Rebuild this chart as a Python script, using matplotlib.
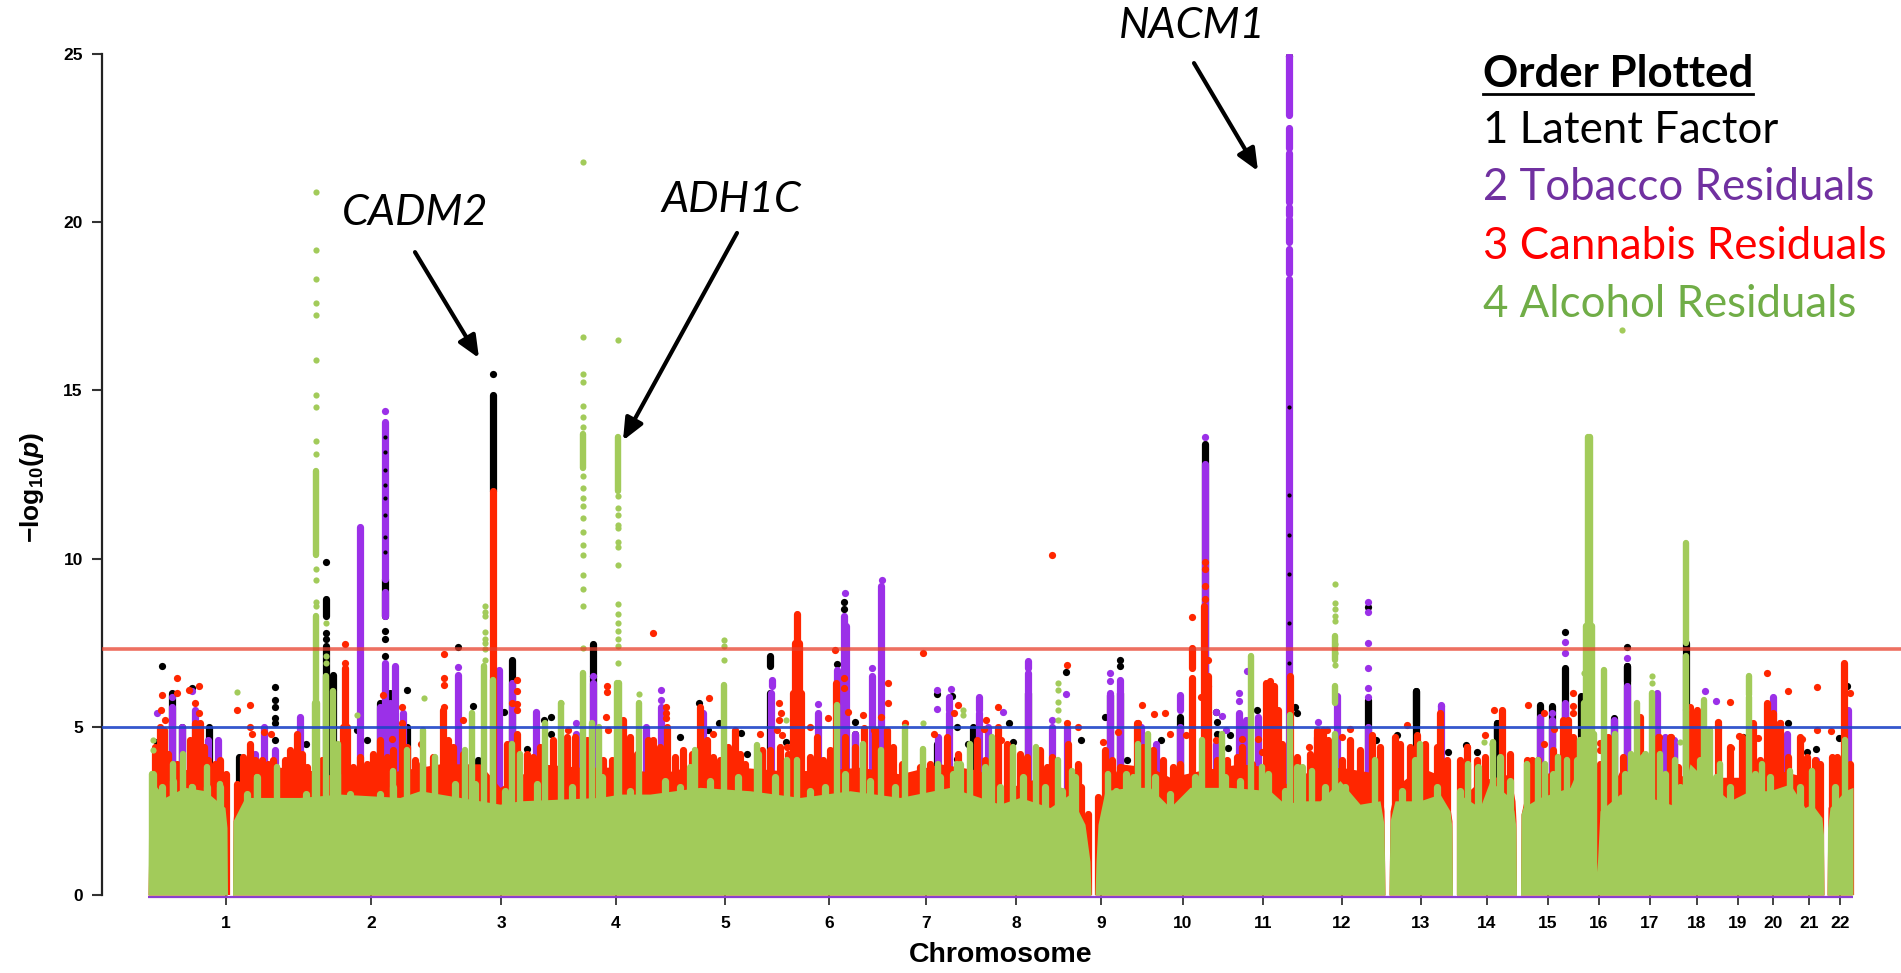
"""Overlaid Manhattan plot: latent factor and tobacco / cannabis / alcohol residuals.

Genome position is kept on a plain linear scale, one unit per output pixel.
"""
import matplotlib
matplotlib.use("Agg")
import matplotlib.pyplot as plt

plt.rcParams.update({"font.family": "Liberation Sans",
                     "mathtext.fontset": "custom",
                     "mathtext.rm": "Liberation Sans:bold",
                     "mathtext.bf": "Liberation Sans:bold",
                     "mathtext.it": "Liberation Sans:bold:italic"})

BLACK, PURPLE, RED, GREEN = "#000000", "#9b30e8", "#ff2600", "#a2cb5a"

CHR_LABELS = [str(i) for i in range(1, 23)]
CHR_TICKS = [226, 371, 501, 616, 725, 829, 926, 1016, 1101, 1183, 1263, 1342,
             1421, 1487, 1548, 1599, 1650, 1697, 1738, 1773, 1809, 1840]
GENOME_START, GENOME_END = 148, 1853
Y_TICKS = [0, 5, 10, 15, 20, 25]
LINE_SUGGESTIVE, LINE_GENOME_WIDE = 5.0, 7.3

# green floor of the plot, a lower bound every SNP clears
GREEN_BASE_X = [148, 149, 165, 185, 205, 225, 227, 227.5, 232.5, 233, 245, 300, 340, 400, 420, 500, 520, 600, 620,
                650, 700, 750, 800, 850, 900, 950, 1000, 1020, 1050, 1070, 1085, 1090, 1091, 1095, 1096, 1098, 1105,
                1130, 1150, 1170, 1190, 1230, 1270, 1285, 1300, 1320, 1340, 1360, 1380, 1384, 1385, 1389, 1390, 1395,
                1420, 1440, 1450, 1452, 1452.5, 1456.5, 1457, 1459, 1480, 1490, 1510, 1514, 1516, 1516.5, 1520.5, 1521,
                1523, 1540, 1570, 1580, 1594, 1597, 1600, 1620, 1650, 1680, 1690, 1710, 1730, 1750, 1770, 1790, 1805,
                1812, 1822, 1823.5, 1824, 1827, 1827.5, 1830, 1845, 1853]
GREEN_BASE_Y = [0, 3.5, 2.9, 3.2, 3.1, 2.6, 2.0, 0, 0, 2.2, 2.9, 2.9, 3.0, 2.9, 3.1, 2.7, 2.8, 2.9, 3.0,
                3.0, 3.2, 3.1, 2.9, 3.1, 2.9, 3.2, 2.7, 2.9, 2.6, 3.0, 2.1, 1.0, 0, 0, 1.0, 2.1, 3.1,
                3.2, 3.2, 2.6, 3.2, 3.2, 3.1, 2.7, 2.8, 2.8, 3.4, 2.7, 2.8, 2.1, 0, 0, 2.2, 2.8,
                2.8, 3.0, 2.5, 2.0, 0, 0, 2.6, 3.0, 2.6, 3.4, 2.9, 2.5, 2.0, 0, 0, 2.4,
                2.6, 2.9, 3.2, 3.9, 2.5, 0.7, 2.5, 3.0, 2.9, 2.6, 3.9, 3.3, 2.8, 3.1, 3.1, 3.3, 2.6,
                2.7, 2.3, 1.8, 0, 0, 2.0, 2.6, 3.1, 3.2]
GREEN_COL_X = [152, 173, 183, 192, 207, 220, 257, 277, 315, 316, 317, 326, 333, 338, 393, 407, 423, 435, 465, 472,
               484, 493, 512, 520, 545, 561, 583, 592, 599, 617, 619, 639, 695, 724, 757, 787, 797, 837, 863,
               881, 905, 923, 938, 957, 970, 992, 1013, 1036, 1058, 1072, 1108, 1138, 1148, 1202, 1222, 1251,
               1262, 1290, 1312, 1335, 1375, 1420, 1468, 1493, 1527, 1538, 1545, 1558, 1567, 1580, 1584, 1586, 1588,
               1590, 1592, 1594, 1604, 1615, 1631, 1637, 1643, 1652, 1660, 1675, 1686, 1704, 1710, 1720, 1749, 1762,
               1790, 1812, 1845]
GREEN_COL_TOP = [3.6, 3.9, 4.2, 3.2, 3.8, 3.3, 3.5, 3.8, 5.7, 8.3, 5.7, 6.5, 6.05, 4.5, 3.7, 4.3, 4.9, 4.1, 4.3, 5.4,
                 6.8, 6.4, 4.5, 4.2, 5.1, 5.7, 6.6, 5.1, 5.0, 6.3, 6.3, 5.7, 4.3, 6.25, 4.45, 4.0, 4.0, 5.65, 4.5,
                 4.3, 5.0, 4.35, 3.9, 3.9, 4.5, 4.7, 4.4, 4.4, 4.0, 3.7, 3.6, 4.5, 4.8, 4.6, 4.8, 7.1,
                 3.8, 5.35, 3.7, 4.8, 4.0, 4.5, 3.9, 4.55, 3.9, 4.0, 3.9, 4.1, 4.0, 4.6, 5.7, 8.0, 13.6,
                 13.6, 8.0, 4.8, 6.7, 4.8, 4.2, 5.7, 4.1, 6.0, 4.2, 4.0, 5.5, 5.8, 4.9, 3.9, 5.9, 3.9,
                 3.7, 3.7, 4.6]
# low rounded bumps along the top of the green mass
GREEN_BUMP_X = [153, 162, 173, 192, 207, 220, 247, 257, 306, 337, 350, 380, 393,
                455, 475, 505, 537, 572, 602, 630, 665, 680, 690, 710,
                738, 758, 775, 810, 825, 845, 870, 895, 940, 953, 960, 985, 1000,
                1023, 1045, 1062, 1075, 1116, 1126, 1133, 1155, 1170, 1195, 1225, 1240, 1268, 1285, 1297,
                1302, 1325, 1345, 1402, 1415, 1437, 1460, 1478, 1500, 1510, 1553, 1577,
                1625, 1645, 1665, 1680, 1700, 1716, 1730, 1755, 1770, 1800, 1835]
GREEN_BUMP_Y = [3.6, 3.2, 3.4, 3.2, 3.2, 3.2, 3.0, 3.5, 3.0, 3.6, 3.0, 3.0, 3.2,
                3.3, 3.3, 3.1, 3.3, 3.2, 3.5, 3.1, 3.4, 3.2, 3.8, 3.4,
                3.5, 4.2, 3.5, 3.1, 3.2, 3.6, 3.4, 3.2, 3.5, 3.6, 3.9, 3.8, 3.2,
                3.5, 3.2, 3.1, 3.5, 3.1, 3.6, 3.5, 3.5, 3.0, 3.5, 3.5, 3.4, 3.6, 3.1, 3.8,
                3.8, 3.2, 3.2, 3.1, 4.0, 3.2, 3.1, 3.8, 4.1, 3.4, 3.6, 4.0,
                3.6, 4.2, 3.6, 3.2, 4.0, 3.5, 3.2, 3.6, 3.5, 3.2, 3.2]
GREEN_SEG_X = [316, 583, 618, 1335, 1335, 1686, 1686, 1749]
GREEN_SEG_LO = [10.1, 12.7, 12.0, 5.7, 7.0, 7.5, 5.5, 5.95]
GREEN_SEG_HI = [12.6, 13.7, 13.6, 6.2, 7.7, 10.45, 7.1, 6.5]
GREEN_DOT_X = [316, 316, 316, 316, 316, 316, 316, 316, 316, 316, 316, 316, 316, 316,
               583, 583, 583, 583, 583, 583, 583, 583, 583, 583, 583, 583, 583, 583, 583, 583, 583, 583, 583,
               618, 618, 618, 618, 618, 618, 618, 618, 618, 618, 618, 618, 618, 618, 618, 618,
               1335, 1335, 1335, 1335, 1335, 1335, 1335, 1335,
               485, 485, 485, 485, 485, 485, 485, 485,
               237, 357, 424, 326, 326, 326, 153, 153, 786, 963, 963, 923, 724, 724, 724,
               1652, 1652, 1058, 1058, 1058, 1058, 1058, 1484, 1492, 1680, 639, 561, 1584, 1622]
GREEN_DOT_Y = [20.9, 19.16, 18.3, 17.6, 17.25, 15.9, 14.85, 14.5, 13.5, 13.1, 9.7, 9.35, 8.7, 8.6,
               21.8, 16.6, 15.5, 15.25, 14.55, 14.2, 13.9, 12.45, 12.1, 11.8, 11.55, 11.2, 10.8, 10.4, 10.1, 9.5, 9.1, 8.6, 7.35,
               16.5, 11.85, 11.5, 11.3, 11.0, 10.9, 10.5, 10.35, 9.8, 8.65, 8.35, 8.1, 7.85, 7.6, 7.4, 6.9,
               9.25, 8.67, 8.5, 8.3, 8.15, 7.45, 7.2, 6.85,
               8.6, 8.4, 8.3, 7.83, 7.6, 7.5, 7.3, 7.0,
               6.03, 5.34, 5.85, 8.1, 7.1, 6.9, 4.6, 4.3, 5.2, 5.5, 5.35, 5.1, 7.58, 7.4, 7.0,
               6.5, 6.3, 6.3, 6.1, 5.75, 5.5, 5.2, 4.55, 4.5, 4.55, 5.98, 5.72, 6.6, 16.8]

RED_FLOOR_X = [148, 150, 160, 180, 200, 220, 226, 227, 227.5, 232.5, 233, 236, 245, 280, 320, 360, 400, 440, 480, 500, 540,
               580, 620, 660, 700, 740, 780, 820, 860, 900, 940, 980, 1000, 1040, 1075, 1085, 1090, 1091,
               1095, 1096, 1100, 1120, 1150, 1170, 1200, 1240, 1270, 1285, 1300, 1340, 1380, 1384, 1385, 1389, 1390,
               1395, 1420, 1445, 1451, 1452, 1452.5, 1456.5, 1457, 1458, 1480, 1510, 1515, 1516, 1516.5, 1520.5, 1521,
               1524, 1540, 1570, 1590, 1596, 1597, 1598, 1599, 1620, 1660, 1700, 1740, 1780, 1820, 1823, 1824, 1827,
               1828, 1840, 1852]
RED_FLOOR_Y = [0, 3.6, 3.8, 3.7, 3.8, 3.7, 3.0, 2.2, 0, 0, 2.2, 3.2, 3.6, 3.8, 3.6, 3.5, 3.7, 3.9, 3.9, 3.2, 3.9,
               3.8, 3.8, 3.6, 3.9, 3.8, 3.7, 3.7, 3.8, 3.6, 3.9, 3.7, 3.1, 3.5, 3.0, 2.4, 1.4, 0,
               0, 1.4, 2.8, 3.9, 3.8, 3.5, 3.7, 3.9, 3.8, 3.3, 3.6, 3.8, 3.6, 2.5, 0, 0, 2.5,
               3.2, 3.8, 3.5, 2.4, 2.2, 0, 0, 2.4, 2.8, 3.4, 3.6, 2.8, 2.2, 0, 0, 2.4,
               2.8, 3.6, 3.7, 3.8, 2.6, 1.0, 0.8, 2.4, 3.7, 3.6, 3.5, 3.5, 3.7, 3.4, 2.6, 0, 0,
               2.6, 3.4, 3.4]
RED_COL_X = [155, 160, 164, 168, 172, 177, 190, 195, 200, 204, 208, 215, 220, 226,
             237, 243, 250, 255, 262, 268, 273, 278, 285, 290, 297, 302, 307, 311, 322, 340, 343, 345, 347, 353, 360, 367,
             373, 380, 387, 393, 402, 407, 415, 422, 433, 443, 448, 453, 463, 493, 507, 517, 527, 533, 540, 553, 567, 575,
             587, 603, 612, 623, 630, 637, 648, 653, 660, 667, 675, 683, 692, 700, 707, 713, 720,
             728, 735, 740, 745, 762, 770, 780, 788, 793, 795, 797, 799, 801, 810, 817, 823, 830, 836, 845, 855, 864,
             875, 887, 893, 902, 920, 930, 947, 958, 977, 985, 998, 1007,
             1020, 1027, 1040, 1047, 1052, 1068, 1078, 1081, 1088, 1098, 1105, 1112, 1120, 1137, 1143, 1153, 1163,
             1173, 1180, 1192, 1204, 1208, 1217, 1227, 1237, 1242, 1252, 1266, 1270, 1274, 1278, 1282, 1290, 1297,
             1310, 1317, 1323, 1328, 1342, 1350, 1360, 1372, 1380, 1395, 1400, 1410, 1417, 1425, 1437, 1440, 1447,
             1460, 1467, 1477, 1485, 1502, 1510, 1527, 1532, 1538, 1553, 1563, 1568, 1573,
             1600, 1608, 1623, 1640, 1658, 1670, 1678, 1690, 1697, 1700, 1718, 1730, 1742, 1753, 1760, 1767, 1773,
             1780, 1788, 1800, 1807, 1815, 1820, 1832, 1837, 1844, 1850]
RED_COL_TOP = [4.4, 5.0, 4.9, 4.2, 3.8, 3.9, 4.6, 5.1, 5.1, 4.4, 4.0, 3.9, 4.0, 3.6,
               3.3, 4.1, 4.5, 4.0, 4.0, 3.9, 4.0, 3.6, 4.0, 4.3, 4.8, 4.2, 3.8, 3.6, 4.0, 3.9, 5.0, 6.75, 5.0, 3.8, 4.1, 3.9,
               4.2, 4.6, 4.1, 4.3, 5.0, 4.4, 4.0, 3.9, 4.1, 5.5, 4.6, 4.4, 4.2, 12.0, 4.5, 4.8, 4.2, 4.1, 4.4, 4.6, 4.7, 4.7,
               4.6, 4.0, 4.0, 5.2, 4.7, 4.2, 4.6, 4.6, 4.4, 5.0, 4.1, 4.3, 4.2, 5.6, 4.6, 4.1, 4.0,
               4.4, 4.9, 4.2, 3.9, 4.3, 4.3, 4.4, 4.2, 6.0, 7.5, 8.35, 7.5, 6.0, 4.1, 4.7, 4.0, 4.3, 6.3, 4.7, 4.4, 4.95,
               4.9, 4.9, 4.4, 3.9, 3.8, 3.9, 4.7, 4.2, 4.6, 4.0, 5.0, 4.5,
               4.2, 4.1, 4.3, 3.8, 4.1, 4.5, 3.9, 3.2, 2.4, 2.9, 4.3, 4.0, 3.8, 5.1, 4.4, 4.3, 4.0,
               3.8, 3.9, 6.45, 8.6, 6.5, 4.0, 4.0, 4.1, 4.4, 3.9, 6.3, 6.35, 6.2, 5.5, 4.5, 6.5, 4.1,
               4.2, 4.9, 4.9, 4.6, 4.0, 4.6, 4.3, 4.75, 4.4, 4.7, 4.5, 4.4, 4.75, 4.5, 4.4, 5.4, 4.0,
               4.0, 4.4, 4.0, 4.1, 5.5, 4.2, 4.0, 4.0, 4.0, 4.3, 5.2, 5.2, 4.7,
               3.9, 4.7, 4.1, 5.3, 4.7, 4.7, 3.8, 5.6, 5.5, 4.8, 5.1, 4.4, 4.7, 5.1, 4.0, 5.7, 5.4,
               5.1, 4.1, 4.7, 4.1, 4.0, 3.9, 4.1, 4.1, 6.9, 3.9]
RED_SEG_X = [1192]
RED_SEG_LO = [6.74]
RED_SEG_HI = [7.33]
RED_DOT_X = [162, 177, 177, 189, 199, 161, 165, 195, 199, 237, 250, 250, 252, 264, 271, 345, 345, 383, 402, 402, 392, 421,
             444, 444, 444, 444, 463, 517, 517, 517, 517, 512, 607, 607, 606, 608, 653, 666, 666, 666, 709, 713, 622, 568,
             779, 781, 779, 777, 782, 760, 787, 810, 828, 835, 844, 844, 848, 863, 888, 888, 881, 874, 905, 923, 934, 958,
             954, 998, 986, 984, 1001, 1052,
             1067, 1067, 1078, 1103, 1118, 1142, 1154, 1165, 1170, 1138, 1192, 1208, 1201, 1208, 1207, 1242, 1258, 1262,
             1216, 1186, 1205, 1205, 1205, 1205,
             1407, 1350, 1342, 1494, 1485, 1528, 1544, 1573, 1573, 1573, 1554, 1544, 1467, 1327, 1321, 1309,
             1600, 1600, 1697, 1697, 1718, 1718, 1730, 1739, 1767, 1788, 1817, 1831, 1817, 1850, 1758, 1731, 1780, 1780,
             1659, 1671, 1802]
RED_DOT_Y = [5.95, 6.45, 6.0, 6.1, 6.2, 5.5, 5.2, 5.7, 5.4, 5.5, 5.65, 4.98, 4.8, 4.85, 4.8, 7.45, 6.9, 5.95, 5.6, 5.1, 4.65, 4.5,
             7.15, 6.45, 6.25, 5.6, 5.2, 6.4, 6.05, 5.67, 5.5, 5.7, 6.2, 6.03, 5.3, 4.9, 7.8, 5.6, 5.4, 5.25, 5.87, 4.8, 5.1, 4.9,
             5.7, 5.4, 5.2, 4.9, 4.76, 4.8, 4.4, 5.0, 5.25, 7.27, 6.45, 6.16, 5.45, 5.35, 6.3, 5.7, 5.3, 4.9, 5.1, 7.2, 4.8, 5.65,
             5.4, 5.6, 5.2, 4.94, 4.6, 10.1,
             6.83, 5.1, 4.98, 4.56, 4.86, 5.66, 5.37, 5.4, 4.8, 5.1, 8.25, 6.2, 5.9, 7.0, 5.3, 4.64, 4.64, 4.25,
             4.6, 4.76, 9.9, 9.7, 9.2, 8.8,
             5.04, 4.94, 4.7, 5.5, 4.76, 5.65, 5.4, 6.0, 5.63, 5.4, 4.93, 4.5, 4.4, 4.9, 4.8, 4.4,
             4.53, 4.3, 5.42, 5.16, 5.13, 4.93, 5.73, 4.74, 6.6, 6.07, 6.17, 4.88, 4.9, 6.0, 4.68, 4.37, 5.1, 4.93,
             4.7, 4.7, 4.63]

PURPLE_COL_X = [157, 172, 182, 195, 208, 218, 255, 264, 275, 300, 360, 380, 385, 390, 395, 403,
                458, 499, 512, 536, 576, 593, 646, 661, 703, 771, 818, 837, 844, 846, 855, 872, 881, 938, 949, 979, 988,
                1028, 1052, 1067, 1110, 1120, 1141, 1156, 1180, 1205, 1216, 1239, 1246, 1258, 1289,
                1317, 1337, 1368, 1441, 1540, 1552, 1565, 1614, 1627, 1657, 1665, 1674, 1773, 1787, 1816, 1848]
PURPLE_COL_TOP = [4.0, 5.6, 5.0, 5.5, 4.6, 4.6, 4.2, 5.0, 4.3, 5.3, 10.95, 5.6, 6.9, 5.7, 6.8, 5.4,
                  6.55, 6.7, 6.3, 5.0, 4.7, 6.3, 5.0, 5.6, 5.4, 6.0, 5.4, 6.7, 8.3, 8.0, 4.8, 6.5, 9.2, 4.7, 5.4, 5.4, 5.0,
                  6.6, 5.0, 5.0, 6.0, 6.4, 5.0, 4.5, 5.0, 12.8, 4.5, 5.4, 5.2, 5.3, 18.3,
                  4.7, 5.9, 5.0, 5.65, 5.3, 5.2, 5.7, 5.2, 6.2, 6.0, 4.7, 4.6, 5.9, 4.8, 4.0, 5.5]
PURPLE_SEG_X = [385, 385, 1289, 1289, 1289, 1289, 1289, 1289, 772, 949, 979, 1028, 536, 1180]
PURPLE_SEG_LO = [8.3, 9.4, 23.2, 22.2, 20.6, 20.2, 19.4, 18.5, 6.2, 5.5, 5.5, 6.75, 5.0, 5.5]
PURPLE_SEG_HI = [9.0, 14.07, 24.95, 22.8, 22.05, 20.45, 20.1, 19.2, 6.4, 5.9, 5.9, 6.95, 5.4, 5.95]
PURPLE_DOT_X = [172, 157, 192, 385, 458, 536, 576, 576, 661, 661, 593, 818, 872, 937, 937, 951, 1003, 882, 845, 1205,
                1052, 1066, 1110, 1110, 1216, 1222, 1226, 1239, 1239, 1247,
                1368, 1368, 1368, 1368, 1368, 1368, 1441, 1565, 1565, 1318, 1337, 1552, 1627, 1705, 1716, 1665]
PURPLE_DOT_Y = [5.9, 5.4, 6.05, 14.4, 6.77, 5.43, 5.1, 4.8, 6.1, 5.8, 6.5, 5.68, 6.76, 6.08, 5.52, 6.13, 5.43, 9.36, 8.99, 13.6,
                5.2, 5.98, 6.6, 6.35, 5.43, 5.33, 4.9, 6.0, 5.78, 6.66,
                8.72, 8.42, 7.5, 6.74, 6.15, 5.9, 5.63, 7.53, 7.18, 5.13, 5.92, 5.4, 7.04, 6.05, 5.78, 4.6]
# short dark flecks that still show on the purple columns
PURPLE_TOP_BLACK_X = [385, 385, 385, 385, 385, 385, 385, 385, 1289, 1289, 1289, 1289, 1289, 1289]
PURPLE_TOP_BLACK_Y = [13.6, 13.16, 12.64, 12.2, 11.8, 11.3, 10.65, 10.2, 14.5, 11.9, 10.7, 9.55, 8.1, 6.9]

BLACK_COL_X = [172, 182, 209, 239, 326, 333, 380, 390, 407, 478, 512, 593, 770, 837, 855, 937, 973, 1028, 1110, 1120,
               1205, 1180, 1368, 1416, 1497, 1540, 1552, 1565, 1581, 1614, 1627, 1674, 1686, 1847]
BLACK_COL_TOP = [6.0, 5.0, 5.0, 4.1, 7.4, 6.55, 5.7, 6.0, 5.0, 4.0, 7.0, 6.5, 6.0, 5.5, 4.8, 4.5, 5.0, 6.0, 5.95, 6.0,
                 13.4, 5.3, 5.8, 6.05, 5.1, 5.65, 5.62, 6.74, 5.92, 5.25, 6.8, 4.55, 7.5, 5.4]
BLACK_SEG_X = [385, 493, 326, 593, 770, 1416, 1497, 1627]
BLACK_SEG_LO = [8.3, 12.0, 8.3, 6.5, 6.8, 5.1, 4.7, 6.35]
BLACK_SEG_HI = [9.4, 14.85, 8.8, 7.45, 7.1, 6.05, 5.1, 6.8]
BLACK_DOT_X = [162, 192, 275, 275, 275, 275, 275, 275, 326, 326, 326, 407, 306, 157, 167, 367, 357, 493,
               458, 473, 504, 527, 544, 551, 551, 680, 699, 708, 719, 741, 786, 837, 844, 844, 855, 937, 952, 957, 968,
               1009, 747, 957, 1066, 1105, 1120, 1120, 1216, 1217, 1217, 1230, 1228, 1295, 1297, 1081, 1161, 1257,
               1127, 1013, 1289, 1368, 1565, 1466, 1477, 1448, 1397, 1376, 1627, 1788, 1743, 1816, 1807, 1839, 1847,
               385, 385, 385]
BLACK_DOT_Y = [6.8, 6.15, 6.18, 5.8, 5.6, 5.25, 5.1, 4.6, 9.9, 7.8, 7.6, 6.08, 4.5, 4.55, 3.8, 4.6, 4.9, 15.5,
               7.36, 5.63, 5.43, 4.35, 5.2, 5.3, 4.8, 4.7, 5.7, 4.9, 5.1, 4.83, 4.56, 6.87, 8.7, 8.5, 5.15, 5.97, 5.92, 5.0, 4.5,
               5.1, 4.2, 4.04, 6.64, 5.3, 7.0, 6.8, 5.45, 5.13, 4.8, 4.76, 4.36, 5.6, 5.4, 4.6, 4.6, 5.5,
               4.0, 4.56, 24.95, 8.55, 7.83, 4.45, 4.25, 4.25, 4.76, 4.6, 7.37, 5.1, 4.7, 4.35, 4.25, 4.66, 6.2,
               7.86, 7.6, 7.1]

LEGEND_LABELS = ["1 Latent Factor", "2 Tobacco Residuals", "3 Cannabis Residuals", "4 Alcohol Residuals"]
LEGEND_COLORS = ["#000000", "#7030a0", "#ff0000", "#70ad47"]
LEGEND_BASELINES = [143, 200, 259, 317]

GENES = ["CADM2", "ADH1C", "NACM1"]
GENE_TEXT_X = [342, 661, 1119]
GENE_TEXT_Y = [19.93, 20.3, 25.48]
ARROW_TAIL_X = [415, 737, 1194]
ARROW_TAIL_Y = [19.11, 19.68, 24.73]
ARROW_HEAD_X = [479, 623, 1258]
ARROW_HEAD_Y = [15.96, 13.51, 21.52]

W, H = 1901, 973
AX_LEFT, AX_BOTTOM, AX_TOP = 101.6, 895, 54
DOT_S = 27
COL_LW = 5.2

fig = plt.figure(figsize=(W / 100, H / 100), dpi=100)
ax = fig.add_axes([AX_LEFT / W, 1 - AX_BOTTOM / H, 1 - AX_LEFT / W, (AX_BOTTOM - AX_TOP) / H])
ax.set_xlim(AX_LEFT, W)
ax.set_ylim(0, 25)


def layer(color, z, col_x, col_top, seg_x, seg_lo, seg_hi, dot_x, dot_y, s=DOT_S, lw=COL_LW):
    ax.vlines(col_x, 0, col_top, color=color, lw=lw, capstyle="round", zorder=z)
    ax.vlines(seg_x, seg_lo, seg_hi, color=color, lw=lw, capstyle="round", zorder=z)
    ax.scatter(dot_x, dot_y, s=s, color=color, lw=0, zorder=z)


layer(BLACK, 2, BLACK_COL_X, BLACK_COL_TOP, BLACK_SEG_X, BLACK_SEG_LO, BLACK_SEG_HI, BLACK_DOT_X, BLACK_DOT_Y)
layer(PURPLE, 3, PURPLE_COL_X, PURPLE_COL_TOP, PURPLE_SEG_X, PURPLE_SEG_LO, PURPLE_SEG_HI, PURPLE_DOT_X, PURPLE_DOT_Y)
ax.scatter(PURPLE_TOP_BLACK_X, PURPLE_TOP_BLACK_Y, s=9, color=BLACK, lw=0, zorder=3.5)
ax.fill_between(RED_FLOOR_X, 0, RED_FLOOR_Y, color=RED, lw=0, zorder=4)
layer(RED, 4, RED_COL_X, RED_COL_TOP, RED_SEG_X, RED_SEG_LO, RED_SEG_HI, RED_DOT_X, RED_DOT_Y)
ax.fill_between(GREEN_BASE_X, 0, GREEN_BASE_Y, color=GREEN, lw=0, zorder=5)
layer(GREEN, 5, GREEN_COL_X, GREEN_COL_TOP, GREEN_SEG_X, GREEN_SEG_LO, GREEN_SEG_HI, GREEN_DOT_X, GREEN_DOT_Y, s=20, lw=4.6)
ax.vlines(GREEN_BUMP_X, 0, GREEN_BUMP_Y, color=GREEN, lw=5.2, capstyle="round", zorder=5)

# threshold lines sit over the points, slightly see-through
ax.axhline(LINE_GENOME_WIDE, color="#e8402c", lw=2.6, alpha=0.75, zorder=6)
ax.axhline(LINE_SUGGESTIVE, color="#1f45c8", lw=2.0, alpha=0.9, zorder=6)
ax.hlines(-0.05, GENOME_START, GENOME_END, color="#8a3fd0", lw=1.6, clip_on=False, zorder=4)
ax.hlines(0, GENOME_START, GENOME_END, color="#6b6b30", lw=0.6, alpha=0.7, zorder=6)

ax.spines[["top", "right", "bottom"]].set_visible(False)
ax.spines["left"].set_linewidth(1.6)
ax.spines["left"].set_color("#222222")
ax.set_yticks(Y_TICKS)
ax.set_yticklabels([str(t) for t in Y_TICKS], fontsize=12.5, fontweight="bold")
ax.tick_params(axis="y", length=7.5, width=1.5, color="#333333", pad=6)
ax.set_xticks(CHR_TICKS)
ax.set_xticklabels(CHR_LABELS, fontsize=12.5, fontweight="bold")
ax.tick_params(axis="x", length=7, width=1.2, color="#222222", pad=8)

fig.text(1001 / W, 1 - 955 / H, "Chromosome", fontsize=20.5, fontweight="bold", ha="center", va="center")
fig.text(32 / W, 1 - 488 / H, r"$\mathbf{-log_{10}(}\mathit{p}\mathbf{)}$", fontsize=19, rotation=90,
         ha="center", va="center")

for name, x, y in zip(GENES, GENE_TEXT_X, GENE_TEXT_Y):
    ax.text(x, y, name, fontsize=31, style="italic", family="Lato", ha="left", va="baseline", zorder=8)
for x0, y0, x1, y1 in zip(ARROW_TAIL_X, ARROW_TAIL_Y, ARROW_HEAD_X, ARROW_HEAD_Y):
    ax.annotate("", xy=(x1, y1), xytext=(x0, y0), zorder=8,
                arrowprops=dict(arrowstyle="-|>,head_length=0.55,head_width=0.24", color="black", lw=3,
                                mutation_scale=24, shrinkA=0, shrinkB=0))

fig.text(1483 / W, 1 - 87 / H, "Order Plotted", fontsize=31.5, fontweight="bold", family="Lato", va="baseline")
fig.lines.append(plt.Line2D([1483 / W, 1753 / W], [1 - 94 / H, 1 - 94 / H], color="black", lw=2,
                            transform=fig.transFigure, figure=fig))
for label, color, base in zip(LEGEND_LABELS, LEGEND_COLORS, LEGEND_BASELINES):
    fig.text(1483 / W, 1 - base / H, label, fontsize=31.5, color=color, family="Lato", va="baseline")

fig.savefig("out.png", dpi=100)
